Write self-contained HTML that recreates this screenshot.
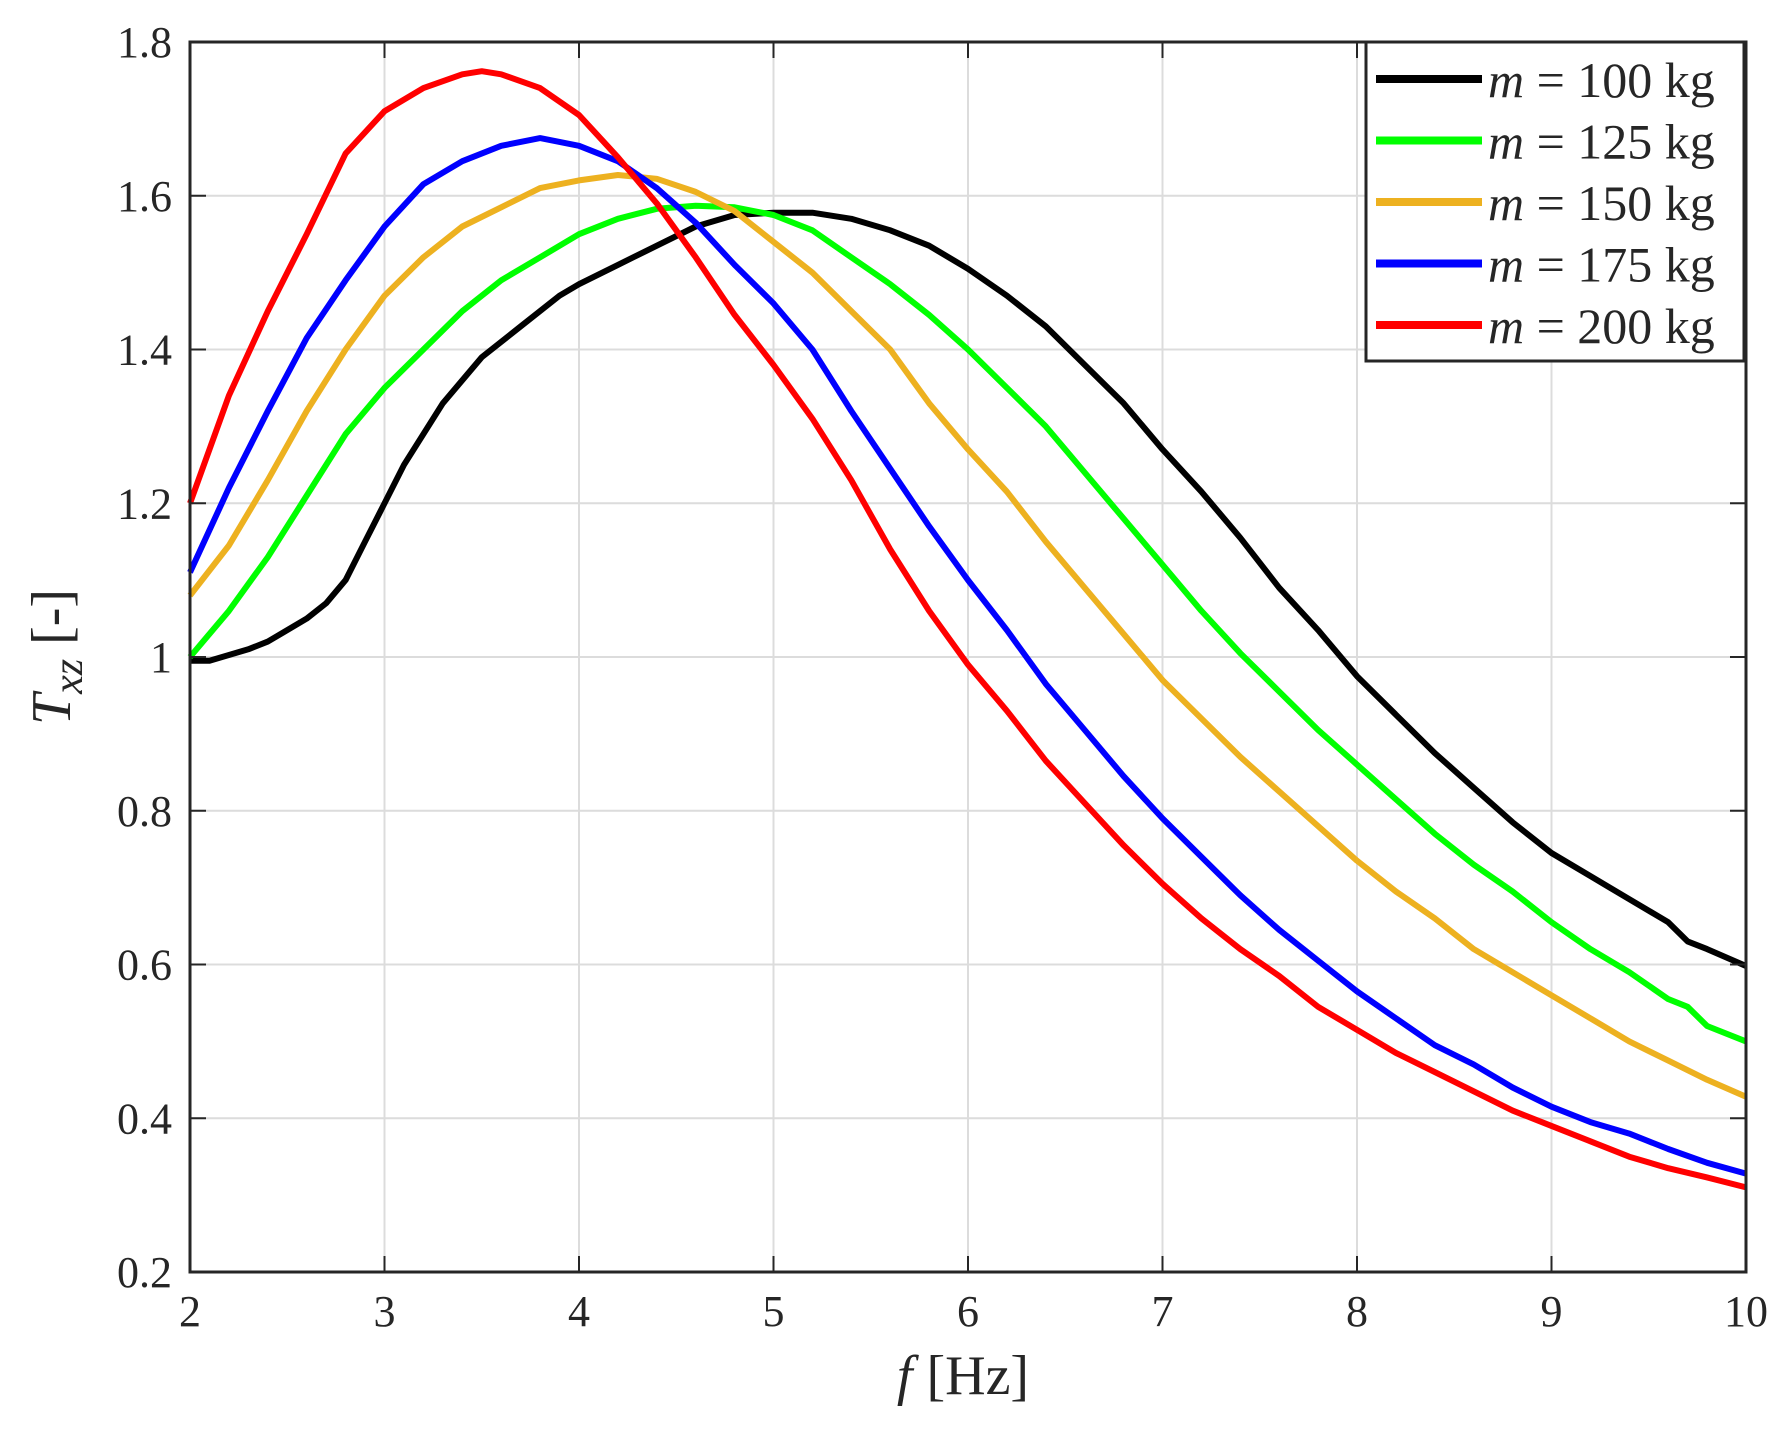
<!DOCTYPE html>
<html><head><meta charset="utf-8"><style>
html,body{margin:0;padding:0;background:#fff}
svg{display:block}
text{font-family:"Liberation Serif","Times New Roman",serif;fill:#262626}
</style></head><body>
<svg id="chart" width="1781" height="1432" viewBox="0 0 1781 1432" xmlns="http://www.w3.org/2000/svg">
<g id="grid"></g>
<g id="series"></g>
<g id="axes"></g>
<g id="legend"></g>
<text x="963" y="1394" font-size="56" text-anchor="middle"><tspan font-style="italic">f</tspan> [Hz]</text>
<text transform="translate(70,657) rotate(-90)" font-size="56" text-anchor="middle"><tspan font-style="italic">T</tspan><tspan font-style="italic" font-size="42" dy="12">xz</tspan><tspan dy="-12"> [-]</tspan></text>
</svg>
<script>
const xTicks=[2,3,4,5,6,7,8,9,10];
const yTicks=[0.2,0.4,0.6,0.8,1,1.2,1.4,1.6,1.8];
const yTickLabels=["0.2","0.4","0.6","0.8","1","1.2","1.4","1.6","1.8"];
const seriesNames=["m = 100 kg","m = 125 kg","m = 150 kg","m = 175 kg","m = 200 kg"];
const seriesColors=["#000000","#00ff00","#edb120","#0000ff","#ff0000"];
const f100=[2,2.1,2.3,2.4,2.6,2.7,2.8,2.9,3.0,3.1,3.3,3.5,3.7,3.9,4.0,4.2,4.4,4.6,4.8,5.0,5.2,5.4,5.6,5.8,6.0,6.2,6.4,6.6,6.8,7.0,7.2,7.4,7.6,7.8,8.0,8.2,8.4,8.6,8.8,9.0,9.2,9.4,9.6,9.7,9.8,10];
const t100=[0.995,0.995,1.01,1.02,1.05,1.07,1.10,1.15,1.20,1.25,1.33,1.39,1.43,1.47,1.485,1.51,1.535,1.56,1.575,1.578,1.578,1.57,1.555,1.535,1.505,1.47,1.43,1.38,1.33,1.27,1.215,1.155,1.09,1.035,0.975,0.925,0.875,0.83,0.785,0.745,0.715,0.685,0.655,0.63,0.62,0.598];
const f125=[2,2.2,2.4,2.6,2.8,3.0,3.2,3.4,3.6,3.8,4.0,4.2,4.4,4.6,4.8,5.0,5.2,5.4,5.6,5.8,6.0,6.2,6.4,6.6,6.8,7.0,7.2,7.4,7.6,7.8,8.0,8.2,8.4,8.6,8.8,9.0,9.2,9.4,9.6,9.7,9.8,10];
const t125=[1.0,1.06,1.13,1.21,1.29,1.35,1.40,1.45,1.49,1.52,1.55,1.57,1.583,1.587,1.585,1.575,1.555,1.52,1.485,1.445,1.40,1.35,1.30,1.24,1.18,1.12,1.06,1.005,0.955,0.905,0.86,0.815,0.77,0.73,0.695,0.655,0.62,0.59,0.555,0.545,0.52,0.50];
const fStd=[2,2.2,2.4,2.6,2.8,3.0,3.2,3.4,3.6,3.8,4.0,4.2,4.4,4.6,4.8,5.0,5.2,5.4,5.6,5.8,6.0,6.2,6.4,6.6,6.8,7.0,7.2,7.4,7.6,7.8,8.0,8.2,8.4,8.6,8.8,9.0,9.2,9.4,9.6,9.8,10];
const t150=[1.08,1.145,1.23,1.32,1.40,1.47,1.52,1.56,1.585,1.61,1.62,1.627,1.622,1.605,1.58,1.54,1.50,1.45,1.40,1.33,1.27,1.215,1.15,1.09,1.03,0.97,0.92,0.87,0.825,0.78,0.735,0.695,0.66,0.62,0.59,0.56,0.53,0.50,0.475,0.45,0.428];
const t175=[1.11,1.22,1.32,1.415,1.49,1.56,1.615,1.645,1.665,1.675,1.665,1.645,1.61,1.565,1.51,1.46,1.40,1.32,1.245,1.17,1.10,1.035,0.965,0.905,0.845,0.79,0.74,0.69,0.645,0.605,0.565,0.53,0.495,0.47,0.44,0.415,0.395,0.38,0.36,0.342,0.328];
const f200=[2,2.2,2.4,2.6,2.8,3.0,3.2,3.4,3.5,3.6,3.8,4.0,4.2,4.4,4.6,4.8,5.0,5.2,5.4,5.6,5.8,6.0,6.2,6.4,6.6,6.8,7.0,7.2,7.4,7.6,7.8,8.0,8.2,8.4,8.6,8.8,9.0,9.2,9.4,9.6,9.8,10];
const t200=[1.20,1.34,1.45,1.55,1.655,1.71,1.74,1.758,1.762,1.758,1.74,1.705,1.65,1.59,1.52,1.445,1.38,1.31,1.23,1.14,1.06,0.99,0.93,0.865,0.81,0.755,0.705,0.66,0.62,0.585,0.545,0.515,0.485,0.46,0.435,0.41,0.39,0.37,0.35,0.335,0.323,0.31];

const NS="http://www.w3.org/2000/svg";
const L=190,R=1746,T=42,B=1272;
const xs=v=>L+(v-2)/8*(R-L);
const ys=v=>B-(v-0.2)/1.6*(B-T);
function mk(tag,attrs,parent){const e=document.createElementNS(NS,tag);for(const k in attrs)e.setAttribute(k,attrs[k]);parent.appendChild(e);return e;}
const grid=document.getElementById('grid'),axes=document.getElementById('axes'),ser=document.getElementById('series'),leg=document.getElementById('legend');
xTicks.forEach(v=>{
  const g=mk('line',{x1:xs(v),x2:xs(v),y1:T,y2:B,stroke:'#dcdcdc','stroke-width':2},grid);
  
  
  const t1=mk('line',{x1:xs(v),x2:xs(v),y1:B,y2:B-16,stroke:'#262626','stroke-width':2},axes);
  
  
  const t2=mk('line',{x1:xs(v),x2:xs(v),y1:T,y2:T+16,stroke:'#262626','stroke-width':2},axes);
  
  
  const lb=mk('text',{x:xs(v),y:B+54,'font-size':44,'text-anchor':'middle'},axes);lb.textContent=v;
  
  
});
yTicks.forEach((v,i)=>{
  const g=mk('line',{x1:L,x2:R,y1:ys(v),y2:ys(v),stroke:'#dcdcdc','stroke-width':2},grid);
  
  
  const t1=mk('line',{x1:L,x2:L+16,y1:ys(v),y2:ys(v),stroke:'#262626','stroke-width':2},axes);
  
  
  const t2=mk('line',{x1:R,x2:R-16,y1:ys(v),y2:ys(v),stroke:'#262626','stroke-width':2},axes);
  
  
  const lb=mk('text',{x:L-18,y:ys(v)+15,'font-size':44,'text-anchor':'end'},axes);lb.textContent=yTickLabels[i];
  
  
});
const box=mk('rect',{x:L,y:T,width:R-L,height:B-T,fill:'none',stroke:'#262626','stroke-width':3},axes);


const data=[[f100,t100],[f125,t125],[fStd,t150],[fStd,t175],[f200,t200]];
data.forEach((d,i)=>{
  const pts=d[0].map((x,j)=>xs(x).toFixed(1)+','+ys(d[1][j]).toFixed(1)).join(' ');
  const p=mk('polyline',{points:pts,fill:'none',stroke:seriesColors[i],'stroke-width':6,'stroke-linejoin':'round'},ser);
  
  
});
const lb=mk('rect',{x:1366,y:42,width:378,height:319,fill:'#fff',stroke:'#262626','stroke-width':3},leg);


seriesNames.forEach((n,i)=>{
  const y=79+i*61.5;
  const ln=mk('line',{x1:1376,x2:1482,y1:y,y2:y,stroke:seriesColors[i],'stroke-width':8},leg);
  
  
  const t=mk('text',{x:1488,y:y+18,'font-size':50,fill:'#000'},leg);
  
  
  const m=mk('tspan',{'font-style':'italic'},t);m.textContent='m';
  const r=mk('tspan',{},t);r.textContent=' = '+n.split(' = ')[1];
});
</script>
</body></html>
